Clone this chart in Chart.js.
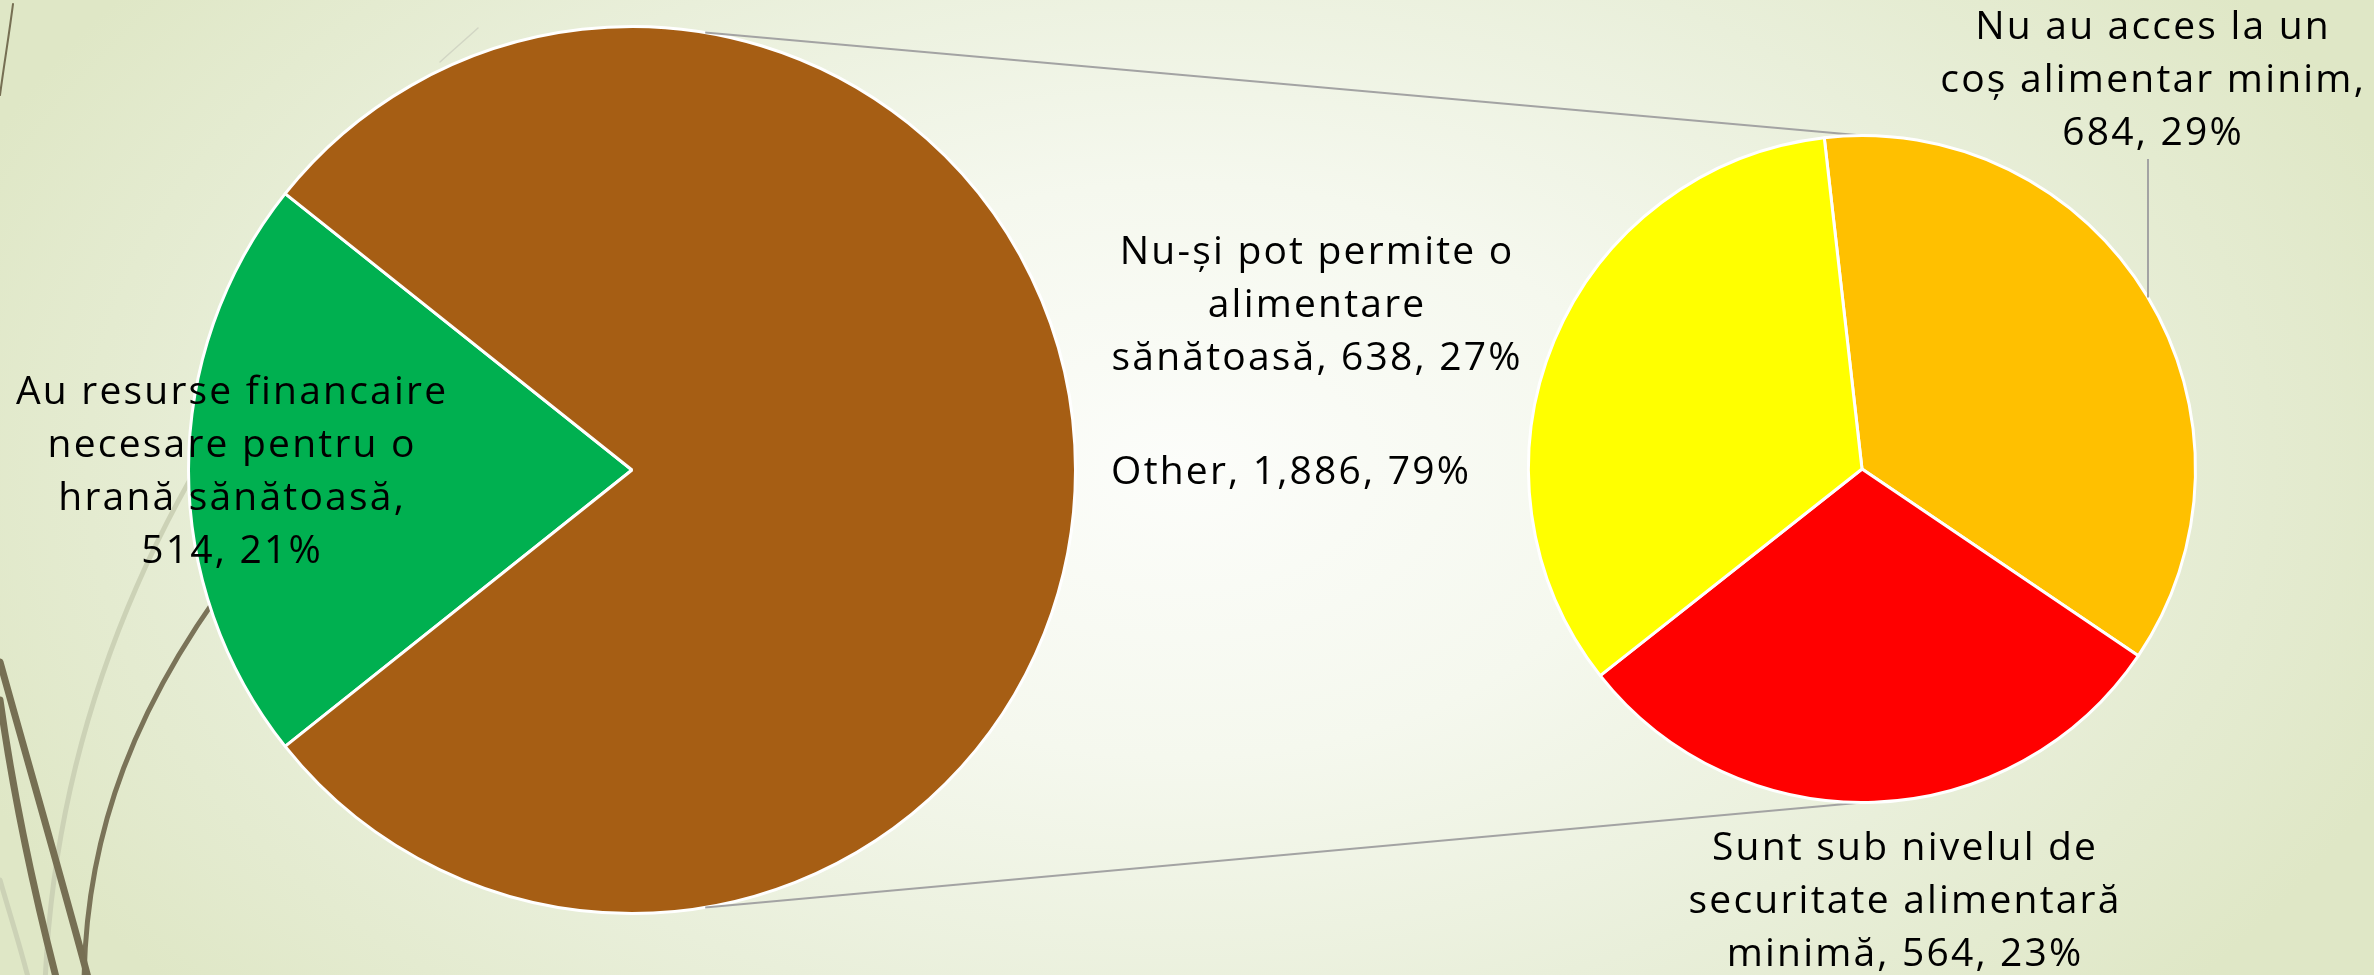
<!DOCTYPE html>
<html><head><meta charset="utf-8">
<script src="https://cdn.jsdelivr.net/npm/chart.js@4.4.1/dist/chart.umd.min.js"></script>
<style>
html,body{margin:0;padding:0;width:2374px;height:975px;overflow:hidden;}
body{background: radial-gradient(ellipse 1300px 820px at 1180px 470px, #fcfdfa 0%, #f5f8ee 35%, #e9efda 68%, #dfe7c6 100%);}
canvas{position:absolute;left:0;top:0;}
</style></head><body>
<canvas id="left" width="2374" height="975"></canvas>
<canvas id="right" width="2374" height="975"></canvas>
<script>
// ---- data ----
const mainCategories = [['Au resurse financaire', 'necesare pentru o', 'hrană sănătoasă'], ['Other']];
const mainValues = [514, 1886];
const mainPercents = ['21%', '79%'];
const subCategories = [['Nu au acces la un', 'coș alimentar minim'], ['Sunt sub nivelul de', 'securitate alimentară', 'minimă'], ['Nu-și pot permite o', 'alimentare', 'sănătoasă']];
const subValues = [684, 564, 638];
const subPercents = ['29%', '23%', '27%'];

// ---- style ----
const mainColors = ['#00B050', '#A65E14'];
const subColors = ['#FFC000', '#FF0000', '#FFFF00'];
const FONT = '39px "Open Sans", "DejaVu Sans", sans-serif';
const LETTER_SPACING = '2.2px';
const LINE_H = 53;
// label placement (offsets from pie centre, px) and whether value goes on its own line
const mainLabelStyle = [{dx: -401, dy: -77, newLine: true}, {dx: 658, dy: 3, newLine: false}];
const subLabelStyle = [{dx: 290, dy: -441, newLine: true, leader: true}, {dx: 42, dy: 380, newLine: false}, {dx: -546, dy: -216, newLine: false}];

function fmt(v) { return v.toLocaleString('en-US'); }
function buildLines(cat, v, p, newLine) {
  const lines = cat.slice();
  if (newLine) { lines[lines.length - 1] += ','; lines.push(fmt(v) + ', ' + p); }
  else { lines[lines.length - 1] += ', ' + fmt(v) + ', ' + p; }
  return lines;
}
function drawLines(ctx, lines, x, y) {
  ctx.save();
  ctx.font = FONT; ctx.fillStyle = '#000'; ctx.textAlign = 'center'; ctx.textBaseline = 'middle';
  if ('letterSpacing' in ctx) ctx.letterSpacing = LETTER_SPACING;
  const sp = parseFloat(LETTER_SPACING) / 2;
  lines.forEach((l, i) => ctx.fillText(l, x + sp, y + i * LINE_H));
  ctx.restore();
}
function pieGeom(chart) {
  const a = chart.getDatasetMeta(0).data[0];
  return {x: a.x, y: a.y, r: a.outerRadius};
}

const decorPlugin = {
  id: 'decor',
  beforeDatasetsDraw(chart) {
    const ctx = chart.ctx;
    ctx.save();
    ctx.lineCap = 'round';
    const curve = (c, w, pts) => {
      ctx.strokeStyle = c; ctx.lineWidth = w; ctx.beginPath();
      ctx.moveTo(pts[0], pts[1]); ctx.bezierCurveTo(pts[2], pts[3], pts[4], pts[5], pts[6], pts[7]); ctx.stroke();
    };
    curve('#ccd2b6', 5, [330, 280, 160, 480, 55, 720, 45, 985]);
    curve('#ccd2b6', 5, [0, 880, 10, 915, 20, 945, 30, 985]);
    curve('#7a7358', 5, [260, 540, 130, 700, 85, 840, 84, 985]);
    curve('#766f53', 7, [0, 662, 30, 770, 62, 880, 90, 985]);
    curve('#766f53', 7, [0, 700, 14, 800, 36, 900, 58, 985]);
    curve('#766f53', 2, [13, 4, 9, 35, 4, 65, 0, 95]);
    curve('#d2d6c4', 1.5, [478, 28, 466, 39, 452, 51, 440, 62]);
    ctx.restore();
  }
};

const mainTotal = mainValues.reduce((a, b) => a + b, 0);
const leftChart = new Chart(document.getElementById('left'), {
  type: 'pie',
  data: {
    labels: mainCategories,
    datasets: [{data: mainValues, backgroundColor: mainColors, borderColor: '#ffffff', borderWidth: 3}]
  },
  options: {
    responsive: false, animation: false,
    rotation: 270 - (mainValues[0] / mainTotal * 360) / 2,
    layout: {padding: {left: 187, right: 1297, top: 25, bottom: 60}},
    plugins: {legend: {display: false}, tooltip: {enabled: false}}
  },
  plugins: [decorPlugin]
});

const overlayPlugin = {
  id: 'overlay',
  beforeDatasetsDraw(chart) {
    const ctx = chart.ctx;
    const L = pieGeom(leftChart), R = pieGeom(chart);
    const ang = 9.5 * Math.PI / 180;
    ctx.save();
    ctx.strokeStyle = '#a3a3a3'; ctx.lineWidth = 2;
    ctx.beginPath();
    ctx.moveTo(L.x + L.r * Math.sin(ang), L.y - L.r * Math.cos(ang));
    ctx.lineTo(R.x, R.y - R.r);
    ctx.moveTo(L.x + L.r * Math.sin(ang), L.y + L.r * Math.cos(ang));
    ctx.lineTo(R.x, R.y + R.r);
    ctx.stroke();
    ctx.restore();
  },
  afterDatasetsDraw(chart) {
    const ctx = chart.ctx;
    const L = pieGeom(leftChart), R = pieGeom(chart);
    mainCategories.forEach((c, i) => {
      const s = mainLabelStyle[i];
      drawLines(ctx, buildLines(c, mainValues[i], mainPercents[i], s.newLine), L.x + s.dx, L.y + s.dy);
    });
    subCategories.forEach((c, i) => {
      const s = subLabelStyle[i];
      const lines = buildLines(c, subValues[i], subPercents[i], s.newLine);
      const x = R.x + s.dx, y = R.y + s.dy;
      drawLines(ctx, lines, x, y);
      if (s.leader) {
        const lx = x - 4;
        const top = y + (lines.length - 1) * LINE_H + 25;
        const dx = lx - R.x;
        const bot = R.y - Math.sqrt(Math.max(R.r * R.r - dx * dx, 0));
        ctx.save(); ctx.strokeStyle = '#a3a3a3'; ctx.lineWidth = 2;
        ctx.beginPath(); ctx.moveTo(lx, top); ctx.lineTo(lx, bot); ctx.stroke(); ctx.restore();
      }
    });
  }
};

let rightChart;
document.fonts.load(FONT).then(() => {
  rightChart = new Chart(document.getElementById('right'), {
    type: 'pie',
    data: {
      labels: subCategories,
      datasets: [{data: subValues, backgroundColor: subColors, borderColor: '#ffffff', borderWidth: 3}]
    },
    options: {
      responsive: false, animation: false,
      rotation: -6.5,
      layout: {padding: {left: 1527, right: 177, top: 134, bottom: 171}},
      plugins: {legend: {display: false}, tooltip: {enabled: false}}
    },
    plugins: [overlayPlugin]
  });
});
</script>
</body></html>
